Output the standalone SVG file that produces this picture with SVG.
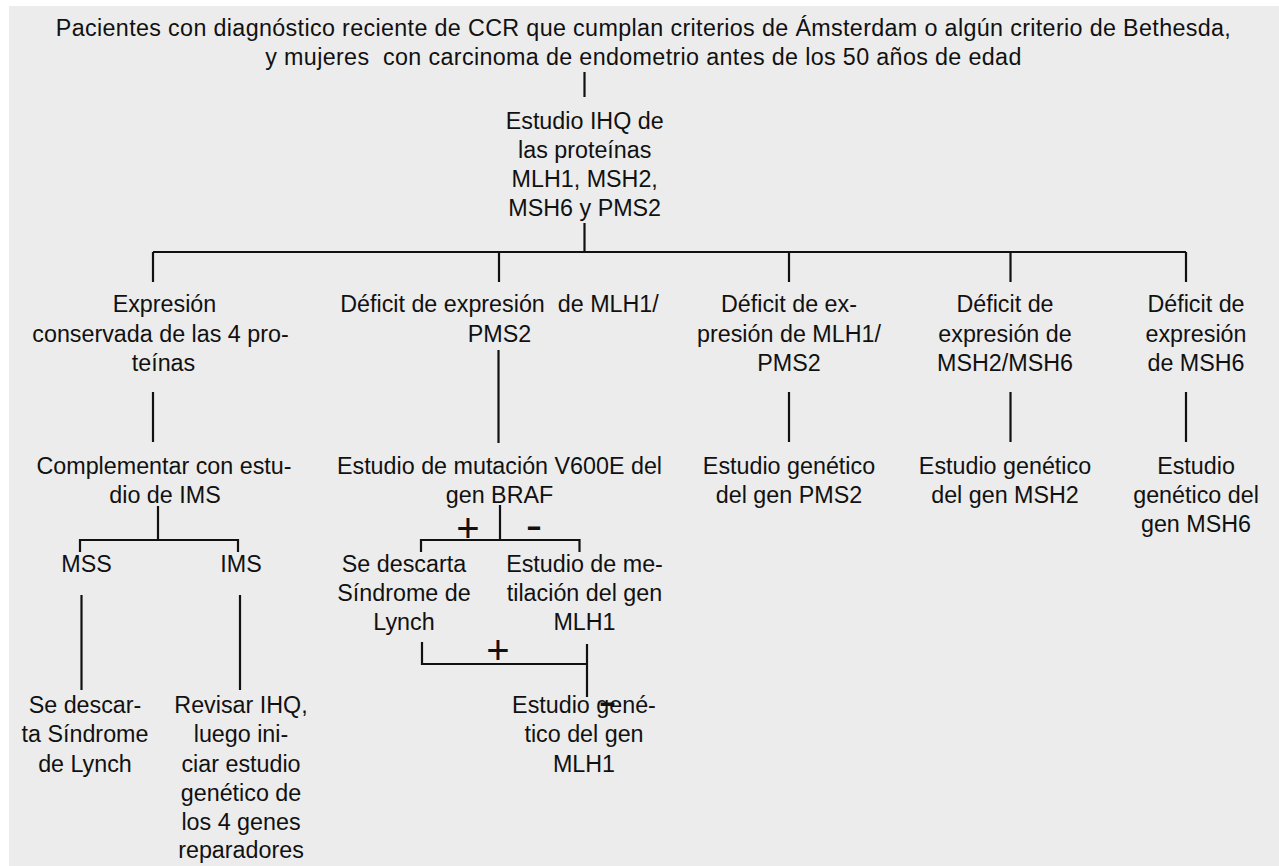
<svg xmlns="http://www.w3.org/2000/svg" width="1279" height="866" viewBox="0 0 1279 866">
<style>
text{font-family:"Liberation Sans",Arial,Helvetica,sans-serif;font-size:23.3px;fill:#111;text-anchor:middle}
.ttl{letter-spacing:0.35px}
.sym{font-size:40px}
.minus{font-size:30px;font-weight:bold}
.ln{fill:none;stroke:#111;stroke-width:2.2}
</style>
<rect x="0" y="0" width="1279" height="866" fill="#fff"/>
<rect x="9" y="6" width="1270" height="860" fill="#ececec"/>
<g id="connectors" class="ln">
<path d="M584.5 72V97"/>
<path d="M584.5 223V252"/>
<path d="M153 252H1186"/>
<path d="M153 252V282M499 252V282M789 252V282M1010.5 252V282M1186 252V282"/>
<path d="M153 392V442"/>
<path d="M498.5 350V443"/>
<path d="M789 392V442M1010.5 392V442M1186 392V442"/>
<path d="M158 506V540M80 552V540H238V552"/>
<path d="M81.5 595V690M240 595V690"/>
<path d="M500 505V540M421 552V540H579.5V552"/>
<path d="M422 642V664H587M587 644V697"/>
</g>
<g id="n-title"><text class="ttl" x="643.5" y="35.5">Pacientes con diagnóstico reciente de CCR que cumplan criterios de Ámsterdam o algún criterio de Bethesda,</text><text class="ttl" x="643.5" y="65" xml:space="preserve">y mujeres  con carcinoma de endometrio antes de los 50 años de edad</text></g>
<g id="n-ihq"><text x="584.7" y="129">Estudio IHQ de</text><text x="584.7" y="158">las proteínas</text><text x="584.7" y="187">MLH1, MSH2,</text><text x="584.7" y="216">MSH6 y PMS2</text></g>
<g id="n-expr"><text x="164.5" y="312">Expresión</text><text x="160.5" y="341.5">conservada de las 4 pro-</text><text x="163.5" y="371">teínas</text></g>
<g id="n-def1"><text x="499.5" y="312" xml:space="preserve">Déficit de expresión  de MLH1/</text><text x="499.5" y="341.5">PMS2</text></g>
<g id="n-def2"><text x="789" y="312">Déficit de ex-</text><text x="789" y="341.5">presión de MLH1/</text><text x="789" y="371">PMS2</text></g>
<g id="n-def3"><text x="1005" y="312">Déficit de</text><text x="1005" y="341.5">expresión de</text><text x="1005" y="371">MSH2/MSH6</text></g>
<g id="n-def4"><text x="1196" y="312">Déficit de</text><text x="1196" y="341.5">expresión</text><text x="1196" y="371">de MSH6</text></g>
<g id="n-compl"><text x="164" y="473.5">Complementar con estu-</text><text x="165" y="502.5">dio de IMS</text></g>
<g id="n-braf"><text x="499.5" y="473.5">Estudio de mutación V600E del</text><text x="499.5" y="502.5">gen BRAF</text></g>
<g id="n-pms2"><text x="789" y="473.5">Estudio genético</text><text x="789" y="502.5">del gen PMS2</text></g>
<g id="n-msh2"><text x="1005" y="473.5">Estudio genético</text><text x="1005" y="502.5">del gen MSH2</text></g>
<g id="n-msh6"><text x="1196" y="473.5">Estudio</text><text x="1196" y="502.5">genético del</text><text x="1196" y="531.5">gen MSH6</text></g>
<g id="n-mss"><text x="86.5" y="571.5">MSS</text></g>
<g id="n-ims"><text x="241" y="571.5">IMS</text></g>
<g id="n-descarta1"><text x="404" y="571.5">Se descarta</text><text x="404" y="600.5">Síndrome de</text><text x="404" y="629.5">Lynch</text></g>
<g id="n-metil"><text x="584.5" y="571.5">Estudio de me-</text><text x="584.5" y="600.5">tilación del gen</text><text x="584.5" y="629.5">MLH1</text></g>
<g id="n-descarta2"><text x="85" y="712.7">Se descar-</text><text x="85" y="742">ta Síndrome</text><text x="85" y="771.5">de Lynch</text></g>
<g id="n-revisar"><text x="241" y="712.7">Revisar IHQ,</text><text x="241" y="742">luego ini-</text><text x="241" y="771.5">ciar estudio</text><text x="241" y="800.5">genético de</text><text x="241" y="829.5">los 4 genes</text><text x="241" y="858.3">reparadores</text></g>
<g id="n-mlh1"><text x="584" y="712.7">Estudio gené-</text><text x="584" y="742">tico del gen</text><text x="584" y="771.5">MLH1</text></g>
<g id="labels">
<text class="sym" x="468" y="541.5">+</text>
<text class="minus" transform="translate(534 527.5) scale(1.6 1)" x="0" y="8.7">-</text>
<text class="sym" x="498" y="664">+</text>
<text class="minus" transform="translate(607.5 703) scale(1.8 1)" x="0" y="8.7">-</text>
</g>
</svg>
